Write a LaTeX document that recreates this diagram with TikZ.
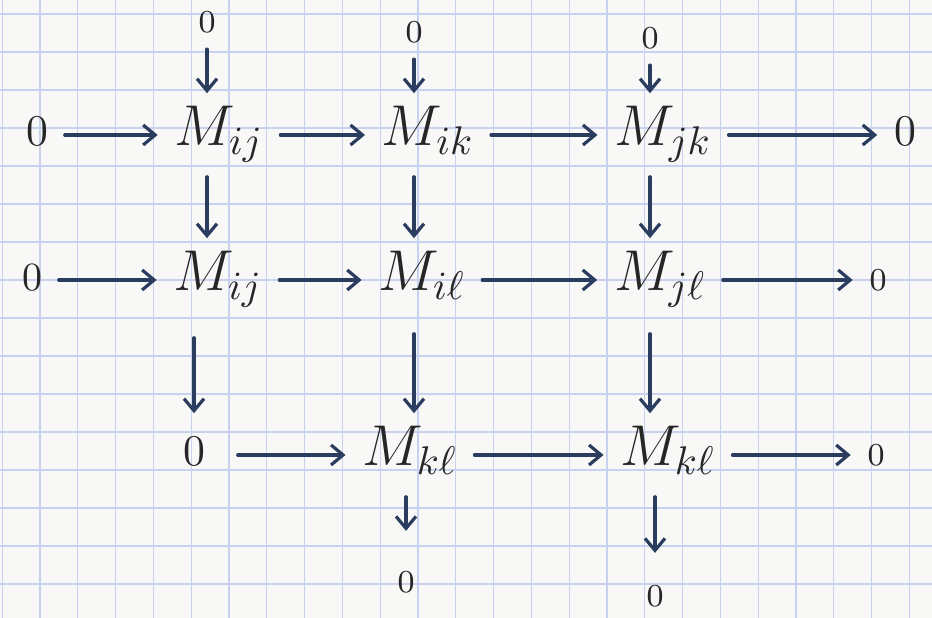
\documentclass[tikz,border=0pt]{standalone}
\usetikzlibrary{arrows.meta}
\definecolor{paper}{HTML}{F8F8F6}
\definecolor{gridc}{HTML}{C9D1F0}
\definecolor{ink}{HTML}{2A3D5E}
\begin{document}
\begin{tikzpicture}[x=0.25pt,y=-0.25pt,
  base/.style={inner sep=2pt,text=black!85,text height=9pt,text depth=3.5pt},
  obj/.style={base,font=\fontsize{14}{16}\selectfont},
  zbig/.style={base,font=\fontsize{11}{13}\selectfont},
  zmid/.style={base,font=\fontsize{10}{12}\selectfont},
  zsm/.style={base,font=\fontsize{8}{10}\selectfont},
  zv/.style={inner sep=2pt,text=black!85,font=\fontsize{8}{10}\selectfont},
  arr/.style={draw=ink,line width=0.8pt,line cap=round,-{Straight Barb[length=3pt,width=5pt,line width=0.8pt]},shorten <=2pt,shorten >=2pt}]
\fill[paper] (0,0) rectangle (932,618);
\useasboundingbox (0,0) rectangle (932,618);
\foreach \i in {-1,...,24} \draw[gridc,line width=0.3pt] (40+37.8*\i,0) -- (40+37.8*\i,618);
\foreach \j in {0,...,16} \draw[gridc,line width=0.3pt] (0,14+38*\j) -- (932,14+38*\j);
% column coordinates
\coordinate (c1) at (207,0);
\coordinate (c2) at (414,0);
\coordinate (c3) at (650,0);
% row 0 (top zeros)
\node[zv] (t1) at (207,22) {$0$};
\node[zv] (t2) at (414,32) {$0$};
\node[zv] (t3) at (650,38) {$0$};
% row 1
\node[zbig] (z1) at (37,135) {$0$};
\node[obj] (a11) at (219,135) {$M_{ij}$};
\node[obj] (a12) at (428,135) {$M_{ik}$};
\node[obj] (a13) at (663,135) {$M_{jk}$};
\node[zbig] (z2) at (905,135) {$0$};
% row 2
\node[zmid] (z3) at (32,280) {$0$};
\node[obj] (a21) at (218,280) {$M_{ij}$};
\node[obj] (a22) at (422,280) {$M_{i\ell}$};
\node[obj] (a23) at (660,280) {$M_{j\ell}$};
\node[zsm] (z4) at (878,280) {$0$};
% row 3
\node[zbig] (z5) at (194,455) {$0$};
\node[obj] (a32) at (410,455) {$M_{k\ell}$};
\node[obj] (a33) at (668,455) {$M_{k\ell}$};
\node[zsm] (z6) at (876,455) {$0$};
% row 4
\node[zv] (b2) at (406,582) {$0$};
\node[zv] (b3) at (655,596) {$0$};
% horizontal arrows
\draw[arr] (z1) -- (a11);
\draw[arr] (a11) -- (a12);
\draw[arr] (a12) -- (a13);
\draw[arr] (a13) -- (z2);
\draw[arr] (z3) -- (a21);
\draw[arr] (a21) -- (a22);
\draw[arr] (a22) -- (a23);
\draw[arr] (a23) -- (z4);
\draw[arr,shorten <=6pt] (z5) -- (a32);
\draw[arr] (a32) -- (a33);
\draw[arr] (a33) -- (z6);
% vertical arrows
\draw[arr] (t1) -- (a11.north -| t1);
\draw[arr] (t2) -- (a12.north -| t2);
\draw[arr] (t3) -- (a13.north -| t3);
\draw[arr] (a11.south -| c1) -- (a21.north -| c1);
\draw[arr] (a12.south -| c2) -- (a22.north -| c2);
\draw[arr] (a13.south -| c3) -- (a23.north -| c3);
\draw[arr,shorten <=6pt] (a21.south -| z5) -- (z5);
\draw[arr,shorten <=5pt] (a22.south -| c2) -- (a32.north -| c2);
\draw[arr,shorten <=5pt] (a23.south -| c3) -- (a33.north -| c3);
\draw[arr,shorten >=8pt] (a32.south -| b2) -- (b2);
\draw[arr,shorten <=2pt,shorten >=6pt] (a33.south -| b3) -- (b3);
\end{tikzpicture}
\end{document}
